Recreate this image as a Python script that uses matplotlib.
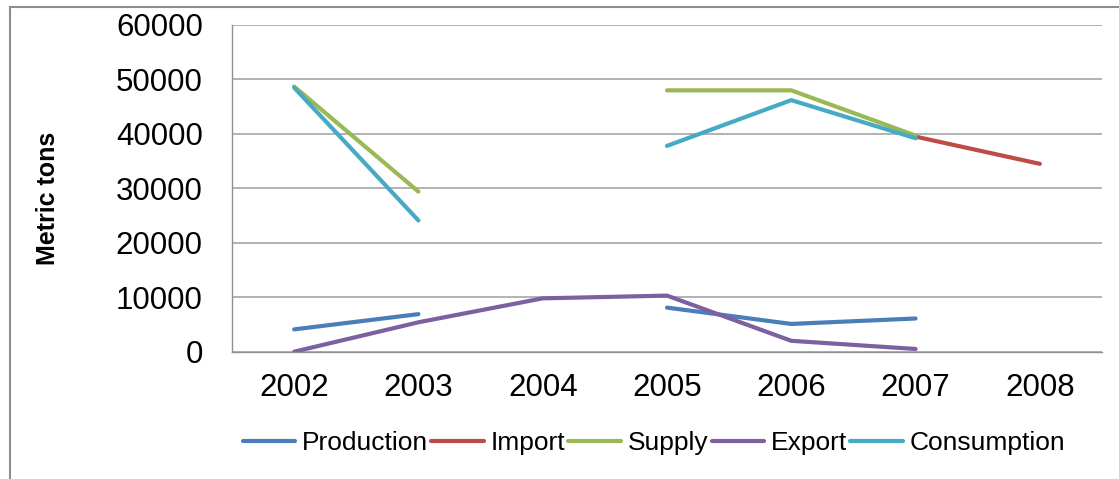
import numpy as np
import matplotlib.pyplot as plt
from matplotlib.lines import Line2D

plt.rcParams['font.family'] = ['Liberation Sans', 'DejaVu Sans']

years = ['2002', '2003', '2004', '2005', '2006', '2007', '2008']
nan = np.nan
production = [4100, 6900, nan, 8100, 5100, 6100, nan]
imports = [nan, nan, nan, nan, nan, 39500, 34500]
supply = [48700, 29400, nan, 48000, 48000, 39700, nan]
export = [0, 5400, 9800, 10300, 2000, 500, nan]
consumption = [48500, 24100, nan, 37800, 46200, 39200, nan]

series = [
    ('Production', production, '#4A7EBB'),
    ('Import', imports, '#BE4B48'),
    ('Supply', supply, '#98B954'),
    ('Export', export, '#7D60A0'),
    ('Consumption', consumption, '#46AAC5'),
]

fig = plt.figure(figsize=(11.19, 4.79), dpi=100)
ax = fig.add_axes([232 / 1119, 1 - 351.7 / 479, 870 / 1119, 326.7 / 479])

x = np.arange(len(years))
for name, vals, col in series:
    ax.plot(x, vals, color=col, lw=3, label=name, solid_capstyle='round',
            solid_joinstyle='round')

ax.set_xlim(-0.5, len(years) - 0.5)
ax.set_ylim(0, 60000)
ax.set_yticks(range(0, 60001, 10000))
ax.set_xticks(x)
ax.set_xticklabels(years)
ax.tick_params(axis='both', length=0, labelsize=22.5)
ax.tick_params(axis='y', pad=21)
ax.tick_params(axis='x', pad=15)
ax.grid(axis='y', color='#A6A6A6', lw=1.2)
ax.set_axisbelow(True)
for s in ['top', 'right']:
    ax.spines[s].set_visible(False)
for s in ['left', 'bottom']:
    ax.spines[s].set_color('#909090')
    ax.spines[s].set_linewidth(1.0)

fig.text(48 / 1119, 1 - 198 / 479, 'Metric tons', rotation=90, ha='center',
         va='center', fontsize=18, fontweight='bold')

fig.legend(loc='center', bbox_to_anchor=(654 / 1119, 1 - 443 / 479), ncol=5,
           frameon=False, fontsize=19, handlelength=2.0, handletextpad=0.25,
           columnspacing=0.12, borderpad=0, borderaxespad=0)

# outer chart border (left and top edges)
fig.add_artist(Line2D([10 / 1119, 10 / 1119], [0, 1 - 7 / 479],
                      transform=fig.transFigure, color='#8C8C8C', lw=1.5))
fig.add_artist(Line2D([10 / 1119, 1], [1 - 7 / 479, 1 - 7 / 479],
                      transform=fig.transFigure, color='#8C8C8C', lw=1.5))

fig.savefig('out.png', dpi=100)
